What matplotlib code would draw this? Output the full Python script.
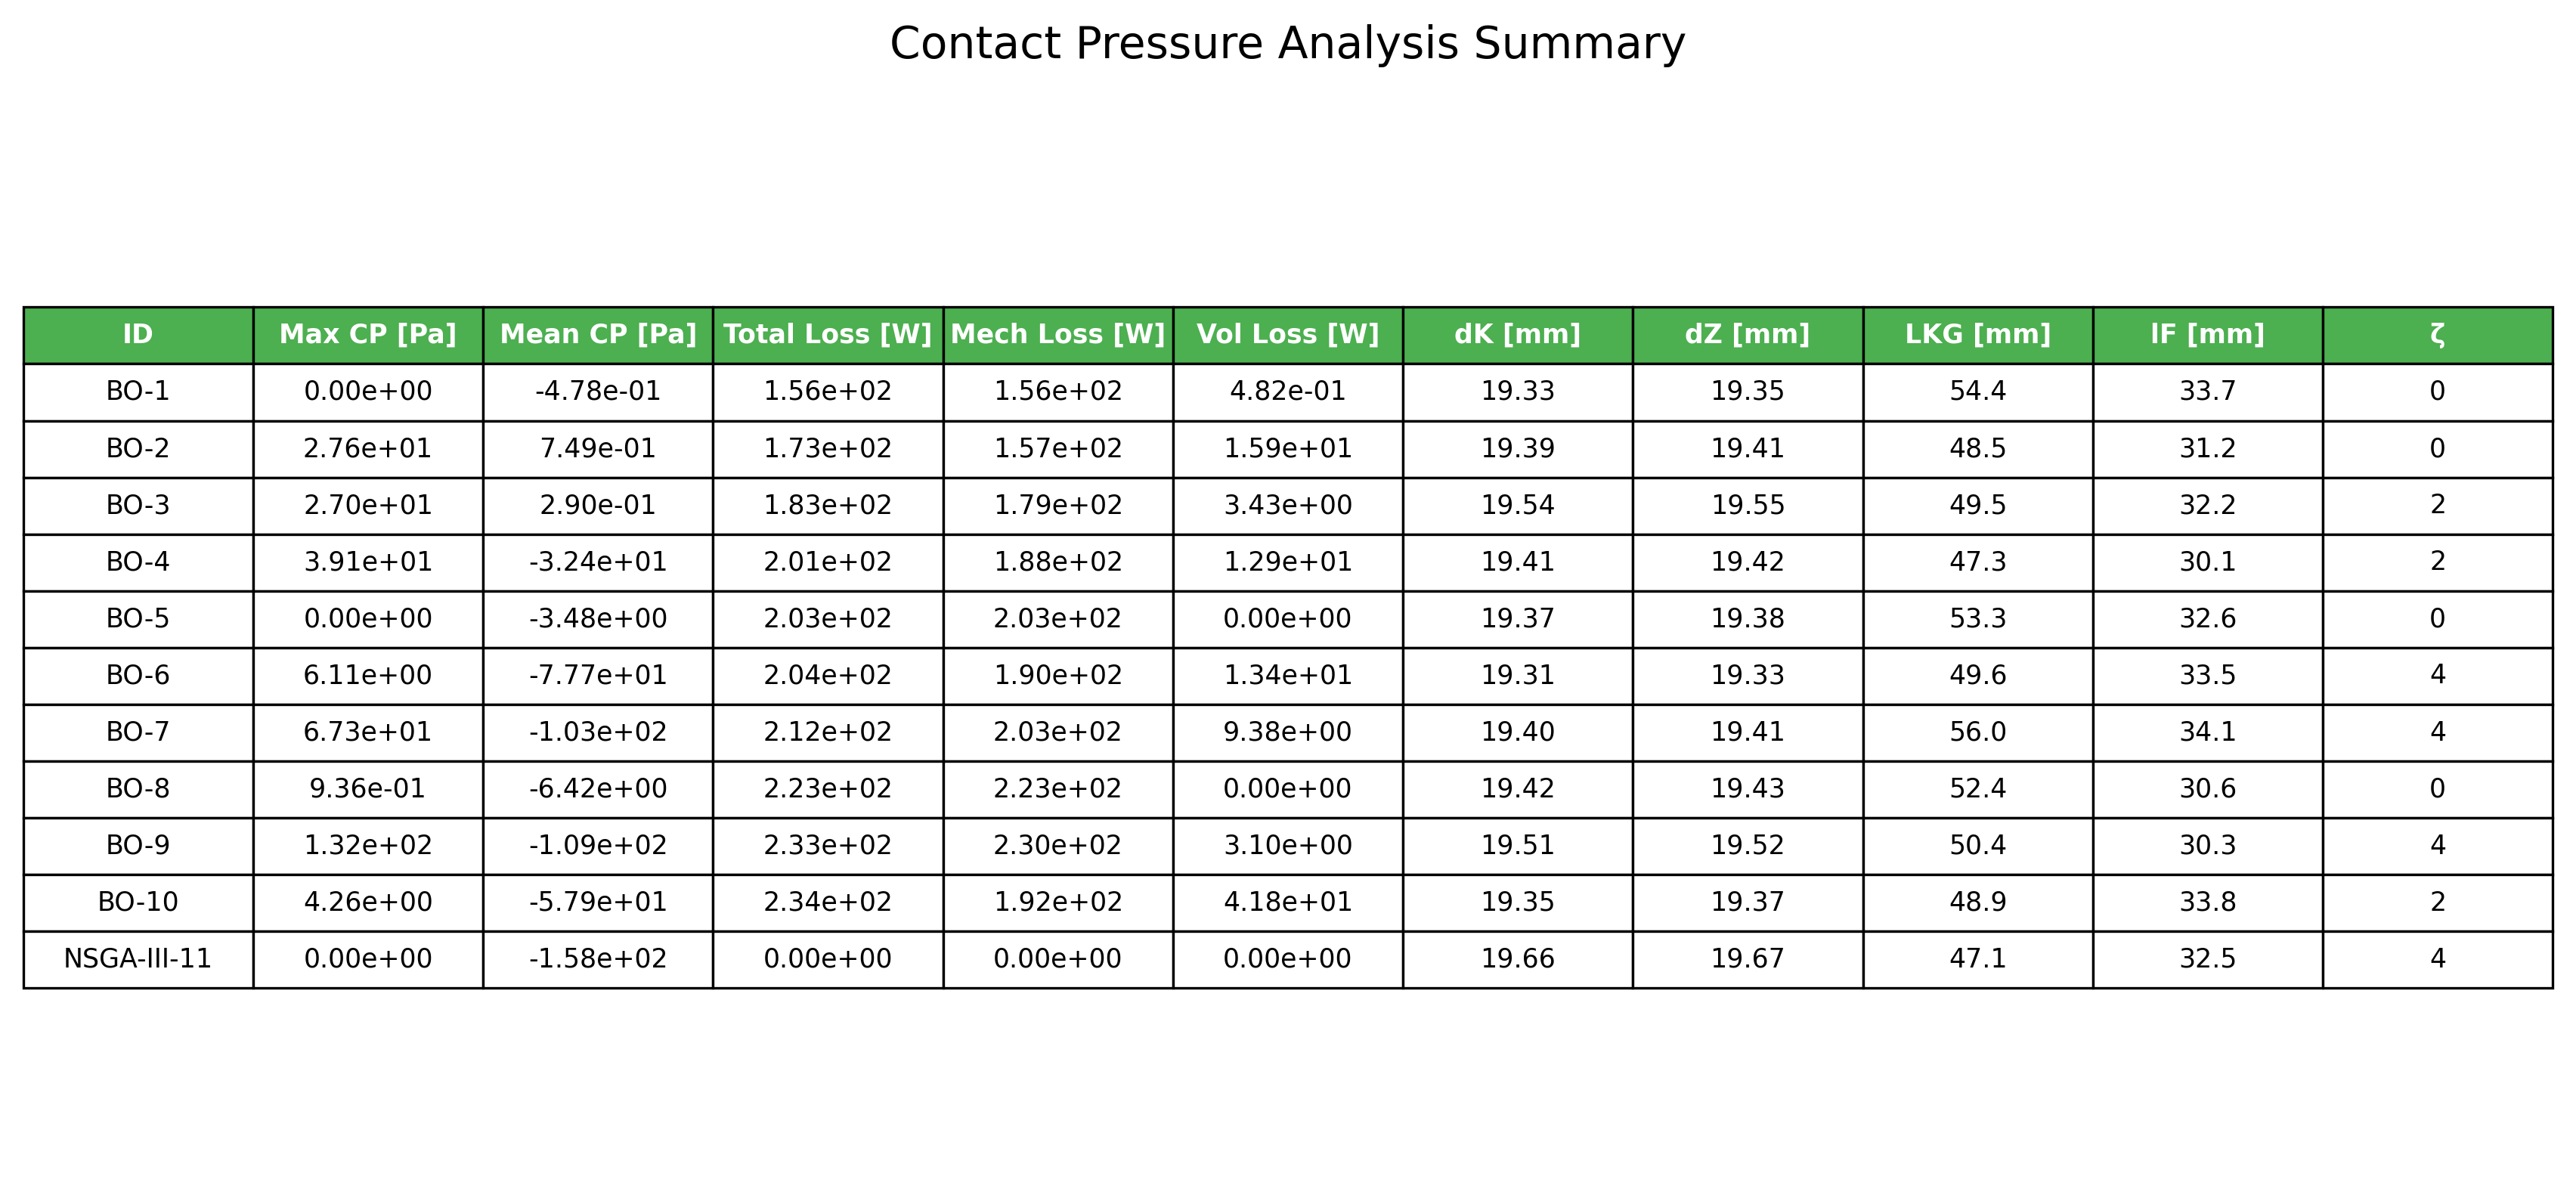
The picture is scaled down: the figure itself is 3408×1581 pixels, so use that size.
import matplotlib.pyplot as plt

columns = ["ID", "Max CP [Pa]", "Mean CP [Pa]", "Total Loss [W]", "Mech Loss [W]",
           "Vol Loss [W]", "dK [mm]", "dZ [mm]", "LKG [mm]", "lF [mm]", "ζ"]
ids = ["BO-1", "BO-2", "BO-3", "BO-4", "BO-5", "BO-6", "BO-7", "BO-8", "BO-9", "BO-10", "NSGA-III-11"]
max_cp = [0.0, 27.6, 27.0, 39.1, 0.0, 6.11, 67.3, 0.936, 132, 4.26, 0.0]
mean_cp = [-0.478, 0.749, 0.290, -32.4, -3.48, -77.7, -103, -6.42, -109, -57.9, -158]
total_loss = [156, 173, 183, 201, 203, 204, 212, 223, 233, 234, 0.0]
mech_loss = [156, 157, 179, 188, 203, 190, 203, 223, 230, 192, 0.0]
vol_loss = [0.482, 15.9, 3.43, 12.9, 0.0, 13.4, 9.38, 0.0, 3.10, 41.8, 0.0]
dK = [19.33, 19.39, 19.54, 19.41, 19.37, 19.31, 19.40, 19.42, 19.51, 19.35, 19.66]
dZ = [19.35, 19.41, 19.55, 19.42, 19.38, 19.33, 19.41, 19.43, 19.52, 19.37, 19.67]
lkg = [54.4, 48.5, 49.5, 47.3, 53.3, 49.6, 56.0, 52.4, 50.4, 48.9, 47.1]
lF = [33.7, 31.2, 32.2, 30.1, 32.6, 33.5, 34.1, 30.6, 30.3, 33.8, 32.5]
zeta = [0, 0, 2, 2, 0, 4, 4, 0, 4, 2, 4]

rows = []
for i in range(len(ids)):
    rows.append([ids[i], f"{max_cp[i]:.2e}", f"{mean_cp[i]:.2e}", f"{total_loss[i]:.2e}",
                 f"{mech_loss[i]:.2e}", f"{vol_loss[i]:.2e}", f"{dK[i]:.2f}", f"{dZ[i]:.2f}",
                 f"{lkg[i]:.1f}", f"{lF[i]:.1f}", f"{zeta[i]}"])

fig = plt.figure(figsize=(17.04, 7.905), dpi=200)
ax = fig.add_axes([0, 0, 1, 1])
ax.axis("off")

tbl = ax.table(cellText=rows, colLabels=columns, cellLoc="center",
               bbox=[0.009, 0.173, 0.982, 0.570])
tbl.auto_set_font_size(False)
tbl.set_fontsize(12.5)
for (r, c), cell in tbl.get_celld().items():
    cell.set_linewidth(1.2)
    if r == 0:
        cell.set_facecolor("#4CAF50")
        cell.set_text_props(color="white", fontweight="bold")

fig.text(0.5, 0.962, "Contact Pressure Analysis Summary", ha="center", va="center", fontsize=21)
fig.savefig("out.png", dpi=200)
